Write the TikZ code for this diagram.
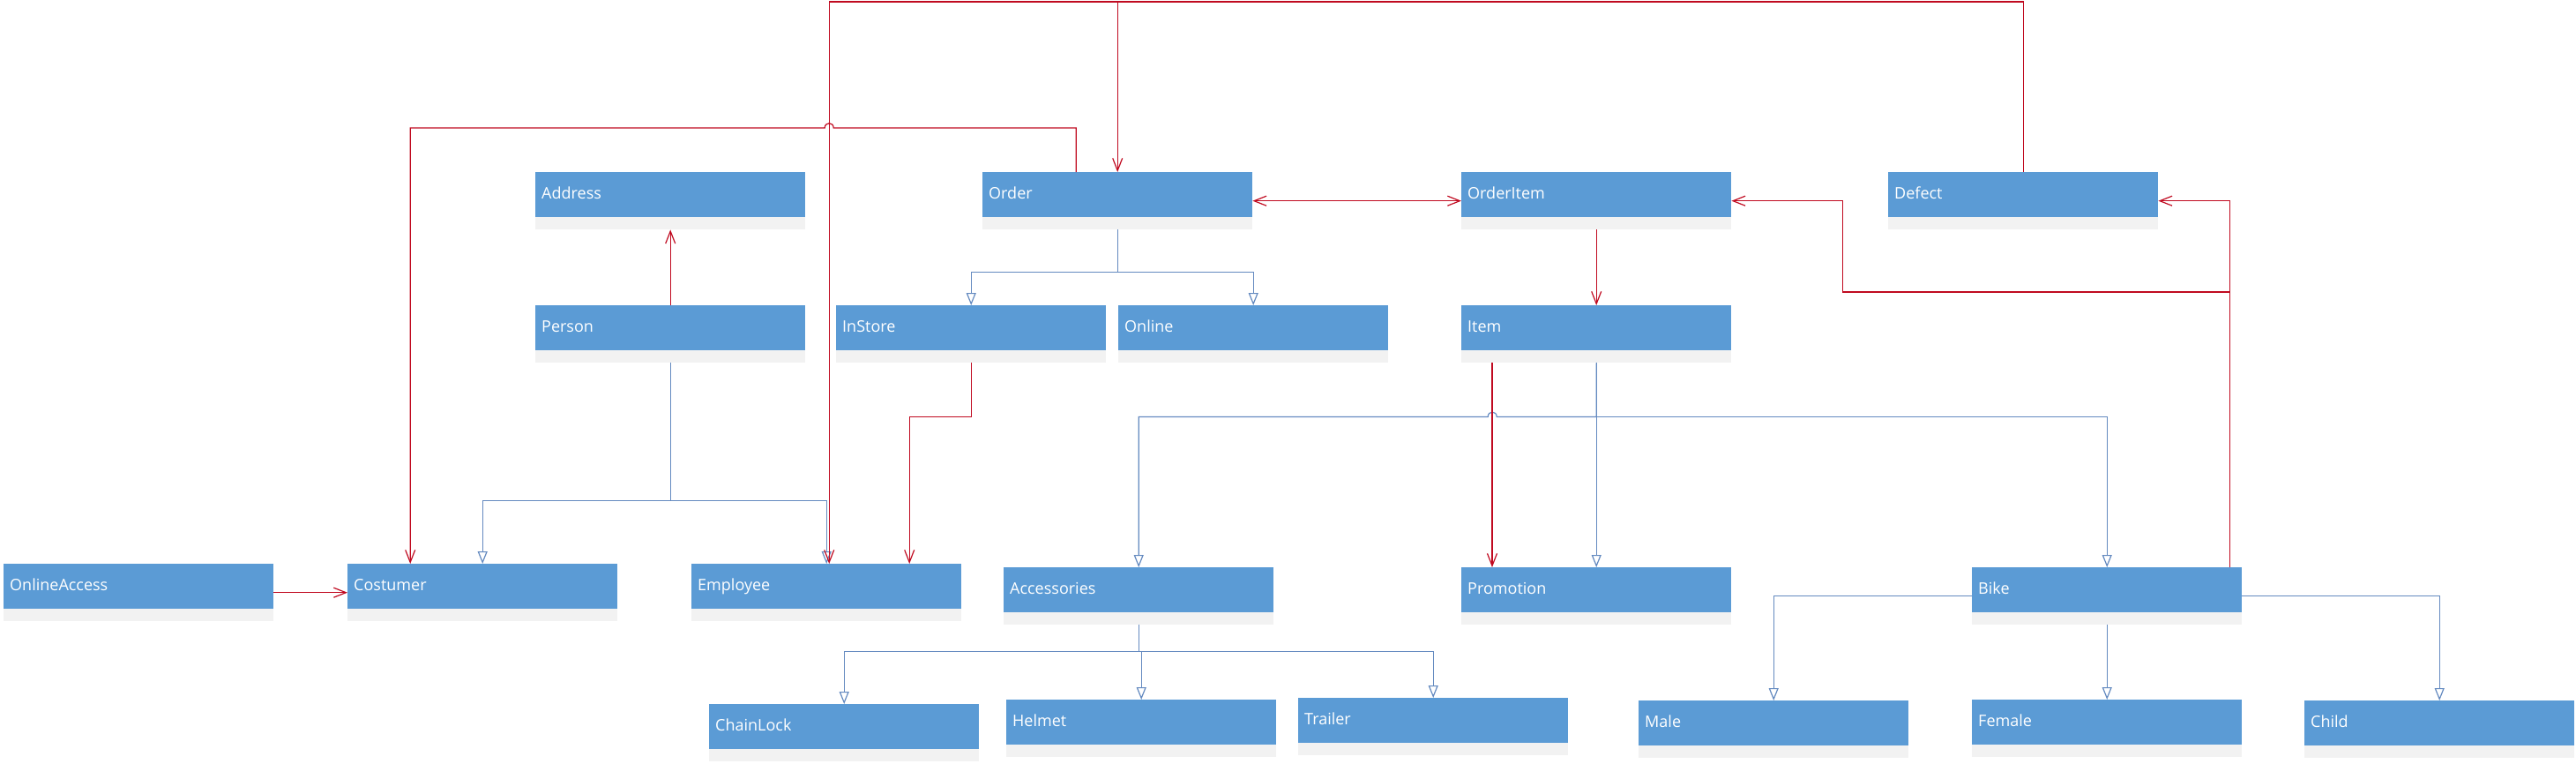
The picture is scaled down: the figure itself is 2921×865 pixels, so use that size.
\documentclass[tikz,border=0pt]{standalone}
\usepackage{fontspec}
\setmainfont{Open Sans}
\usepackage{tikz}
\usetikzlibrary{arrows.meta, calc}
\definecolor{ClassBlue}{RGB}{91,155,213}
\definecolor{ClassGray}{RGB}{242,242,242}
\definecolor{AssocRed}{RGB}{192,10,32}
\definecolor{GenBlue}{RGB}{100,138,192}
\newcommand{\klass}[2]{ node[klass, name={#1}] {#2}}
\tikzset{klass/.style={rectangle, anchor=north west, fill=ClassGray, minimum width=306pt, minimum height=65pt,
    inner sep=0pt, text width=292pt, align=left, text=white, font=\fontsize{18}{21}\selectfont,
    text height=12.5pt, text depth=16pt,
    path picture={\fill[ClassBlue] (path picture bounding box.north west) rectangle ([yshift=14pt]path picture bounding box.south east);}}}
\tikzset{assoc/.style={->, >={Straight Barb[length=14pt, width=11pt]}, AssocRed, line width=1.2pt}}
\tikzset{gen/.style={-{Triangle[open, length=14pt, width=11pt, fill=white]}, GenBlue, line width=1.2pt}}

\begin{document}
\begin{tikzpicture}[x=1pt, y=-1pt]
  \useasboundingbox (0,0) rectangle (2921,865);

  % --- top row ---
  \draw (607,195) \klass{Address}{Address};
  \draw (1114,195) \klass{Order}{Order};
  \draw (1657,195) \klass{OrderItem}{OrderItem};
  \draw (2141,195) \klass{Defect}{Defect};

  % --- second row ---
  \draw (607,346) \klass{Person}{Person};
  \draw (948,346) \klass{InStore}{InStore};
  \draw (1268,346) \klass{Online}{Online};
  \draw (1657,346) \klass{Item}{Item};

  % --- third row ---
  \draw (4,639) \klass{OnlineAccess}{OnlineAccess};
  \draw (394,639) \klass{Costumer}{Costumer};
  \draw (784,639) \klass{Employee}{Employee};
  \draw (1138,643) \klass{Accessories}{Accessories};
  \draw (1657,643) \klass{Promotion}{Promotion};
  \draw (2236,643) \klass{Bike}{Bike};

  % --- bottom row ---
  \draw (804,798) \klass{ChainLock}{ChainLock};
  \draw (1141,793) \klass{Helmet}{Helmet};
  \draw (1472,791) \klass{Trailer}{Trailer};
  \draw (1858,794) \klass{Male}{Male};
  \draw (2236,793) \klass{Female}{Female};
  \draw (2613,794) \klass{Child}{Child};

  % --- generalisations ---
  \draw[gen] (Person.south) -- ++(0,156) -| (Costumer.north);
  \draw[gen] (Person.south) -- ++(0,156) -| (Employee.north);
  \draw[gen] (Order.south) -- ++(0,48) -| (InStore.north);
  \draw[gen] (Order.south) -- ++(0,48) -| (Online.north);
  \draw[gen] (Item.south) -- (Promotion.north);
  \draw[gen] (Item.south) -- ++(0,61) -- ++(-113,0) .. controls +(0,-7) and +(0,-7) .. ++(-10,0) -| (Accessories.north);
  \draw[gen] (Item.south) -- ++(0,61) -| (Bike.north);
  \draw[gen] (Accessories.south) -- ++(0,30) -| (ChainLock.north);
  \draw[gen] (Accessories.south) -- ++(0,30) -| (Helmet.north);
  \draw[gen] (Accessories.south) -- ++(0,30) -| (Trailer.north);
  \draw[gen] (Bike.west) -| (Male.north);
  \draw[gen] (Bike.south) -- (Female.north);
  \draw[gen] (Bike.east) -| (Child.north);

  % --- associations ---
  \draw[assoc] (Person.north) -- (Address.south);
  \draw[assoc, <->] (Order.east) -- (OrderItem.west);
  \draw[assoc] (OrderItem.south) -- (Item.north);
  \draw[assoc] ([xshift=35pt]Item.south west) -- ([xshift=35pt]Promotion.north west);
  \draw[assoc] (InStore.south) -- ++(0,61) -| ([xshift=94pt]Employee.north);
  \draw[assoc] (OnlineAccess.east) -- (Costumer.west);
  \draw[assoc] ([xshift=-47pt]Order.north) -- ++(0,-50) -- ++(-275,0) .. controls +(0,-7) and +(0,-7) .. ++(-10,0) -| ([xshift=-82pt]Costumer.north);

  % --- defect rail along the top ---
  \coordinate (rail) at ([yshift=193pt]Defect.north);
  \draw[assoc] (Defect.north) -- (rail) -| ([xshift=3pt]Employee.north);
  \draw[assoc] (rail -| Order.north) -- (Order.north);

  % --- bike links ---
  \draw[assoc] ([xshift=139pt]Bike.north) |- (Defect.east);
  \draw[assoc] ([xshift=139pt]Bike.north) -- ++(0,-312) -- ++(-439,0) |- (OrderItem.east);
\end{tikzpicture}
\end{document}
